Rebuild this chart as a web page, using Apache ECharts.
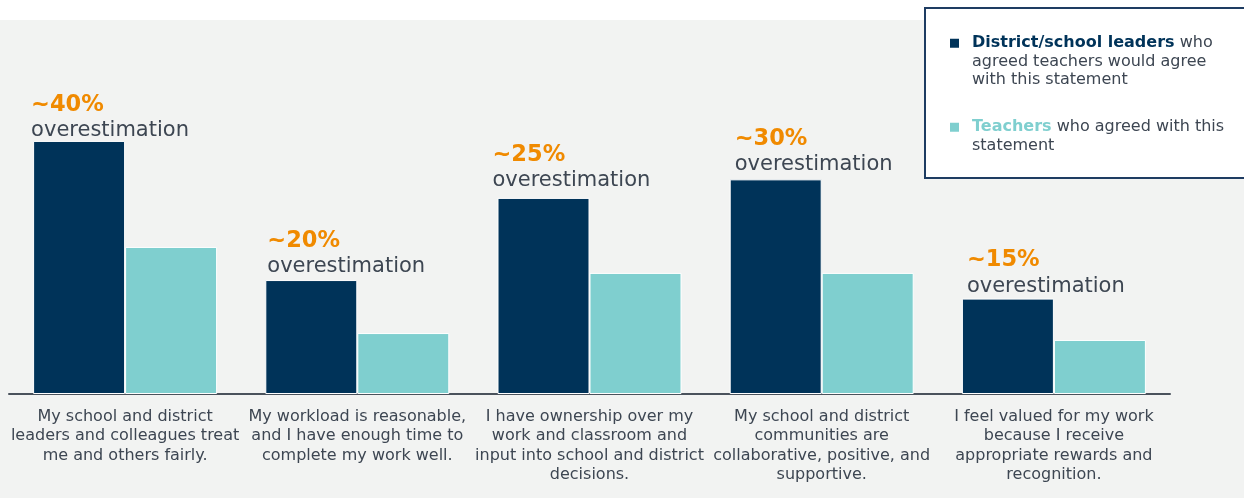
<!DOCTYPE html>
<html>
<head>
<meta charset="utf-8">
<script src="https://cdn.jsdelivr.net/npm/echarts@6/dist/echarts.min.js"></script>
<style>
html,body{margin:0;padding:0;background:#ffffff;}
#chart{width:1244px;height:498px;}
</style>
</head>
<body>
<div id="chart"></div>
<script>
const categories = [
  'My school and district\nleaders and colleagues treat\nme and others fairly.',
  'My workload is reasonable,\nand I have enough time to\ncomplete my work well.',
  'I have ownership over my\nwork and classroom and\ninput into school and district\ndecisions.',
  'My school and district\ncommunities are\ncollaborative, positive, and\nsupportive.',
  'I feel valued for my work\nbecause I receive\nappropriate rewards and\nrecognition.'
];
const leadersValues = [95.5, 43, 74, 81, 36];
const teachersValues = [55.5, 23, 45.7, 45.7, 20.4];
const gapLabels = ['~40%', '~20%', '~25%', '~30%', '~15%'];
const seriesNames = [
  'District/school leaders who agreed teachers would agree with this statement',
  'Teachers who agreed with this statement'
];

// label nudges (styling only, pixels)
const labelNudges = [[-2, 2], [2, -1], [-5, -5], [5, -2], [5, 0]];

const NAVY = '#003359';
const TEAL = '#7fcfcf';
const ORANGE = '#f08a00';
const TEXT = '#3d4652';
const FONT = 'DejaVu Sans';

const chart = echarts.init(document.getElementById('chart'));
chart.setOption({
  animation: false,
  textStyle: { fontFamily: FONT },
  graphic: [
    { type: 'rect', z: -10, shape: { x: 0, y: 20, width: 1244, height: 478 }, style: { fill: '#f2f3f2' } },
    { type: 'rect', z: 1, shape: { x: 925, y: 8, width: 340, height: 170 }, style: { fill: '#ffffff', stroke: '#1e3c62', lineWidth: 2 } }
  ],
  grid: { left: 9, right: 74, top: 129, bottom: 104, containLabel: false },
  legend: {
    orient: 'vertical',
    left: 948,
    top: -3,
    padding: 0,
    itemWidth: 11,
    itemHeight: 11,
    itemGap: 10,
    icon: 'rect',
    selectedMode: false,
    z: 5,
    data: [
      { name: seriesNames[0], textStyle: { padding: [37, 0, 0, 7] } },
      { name: seriesNames[1], textStyle: { padding: [18.5, 0, 0, 7] } }
    ],
    formatter: function (name) {
      if (name === seriesNames[0]) {
        return '{s1|District/school leaders} who\nagreed teachers would agree\nwith this statement';
      }
      return '{s2|Teachers} who agreed with this\nstatement';
    },
    textStyle: {
      fontFamily: FONT,
      fontSize: 16,
      lineHeight: 18.5,
      color: TEXT,
      rich: {
        s1: { fontFamily: FONT, fontSize: 16, lineHeight: 18.5, fontWeight: 'bold', color: NAVY },
        s2: { fontFamily: FONT, fontSize: 16, lineHeight: 18.5, fontWeight: 'bold', color: TEAL }
      }
    }
  },
  xAxis: {
    type: 'category',
    data: categories,
    axisLine: { show: true, lineStyle: { color: '#4a525c', width: 2 } },
    axisTick: { show: false },
    axisLabel: {
      interval: 0,
      margin: 13,
      color: TEXT,
      fontFamily: FONT,
      fontSize: 16,
      lineHeight: 19.5,
      align: 'center'
    }
  },
  yAxis: {
    type: 'value',
    min: 0,
    max: 100,
    show: false,
    splitLine: { show: false }
  },
  series: [
    {
      name: seriesNames[0],
      type: 'bar',
      data: leadersValues.map(function (v, i) {
        return { value: v, label: { offset: labelNudges[i] } };
      }),
      barWidth: 92,
      barGap: '0%',
      itemStyle: { color: NAVY, borderColor: '#ffffff', borderWidth: 1 },
      label: {
        show: true,
        position: [0, 0],
        align: 'left',
        verticalAlign: 'bottom',
        formatter: function (p) {
          return '{a|' + gapLabels[p.dataIndex] + '}\n{b|overestimation}';
        },
        rich: {
          a: { fontFamily: FONT, fontSize: 22.5, fontWeight: 'bold', color: ORANGE, lineHeight: 26 },
          b: { fontFamily: FONT, fontSize: 21, color: TEXT, lineHeight: 25 }
        }
      }
    },
    {
      name: seriesNames[1],
      type: 'bar',
      data: teachersValues,
      barWidth: 92,
      barGap: '0%',
      itemStyle: { color: TEAL, borderColor: '#ffffff', borderWidth: 1 }
    }
  ]
});
</script>
</body>
</html>
